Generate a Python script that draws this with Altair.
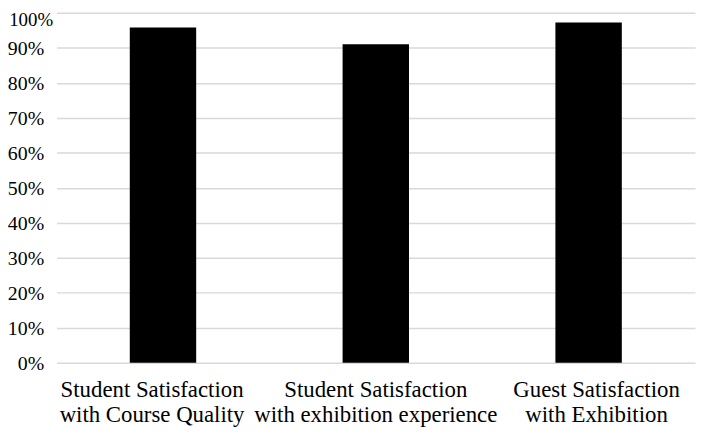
import altair as alt
import pandas as pd

categories = [
    "Student Satisfaction|with Course Quality",
    "Student Satisfaction|with exhibition experience",
    "Guest Satisfaction|with Exhibition",
]
values = [0.958, 0.91, 0.972]
y_ticks = [0, 0.1, 0.2, 0.3, 0.4, 0.5, 0.6, 0.7, 0.8, 0.9, 1.0]

df = pd.DataFrame({"category": categories, "value": values})

FONT = "Liberation Serif"

chart = alt.Chart(df).mark_bar(color="#000000").encode(
    x=alt.X(
        "category:N",
        sort=categories,
        scale=alt.Scale(paddingInner=0.688, paddingOuter=0.344),
        axis=alt.Axis(
            title=None,
            labelAngle=0,
            labelExpr="split(datum.label, '|')",
            labelFont=FONT,
            labelFontSize=23,
            labelLineHeight=25,
            labelColor="#000000",
            labelPadding=16,
            labelLimit=400,
            labelOffset={
                "condition": [
                    {"test": "indexof(datum.value, 'Course') >= 0", "value": -11},
                    {"test": "indexof(datum.value, 'Guest') >= 0", "value": 8},
                ],
                "value": 0,
            },
            ticks=False,
            domain=False,
            grid=False,
        ),
    ),
    y=alt.Y(
        "value:Q",
        scale=alt.Scale(domain=[0, 1], nice=False),
        axis=alt.Axis(
            title=None,
            values=y_ticks,
            format=".0%",
            labelFont=FONT,
            labelFontSize={
                "condition": {"test": "datum.value >= 1", "value": 19},
                "value": 20,
            },
            labelColor="#000000",
            labelPadding={
                "condition": {"test": "datum.value >= 1", "value": 4},
                "value": 13,
            },
            labelOffset={
                "condition": {"test": "datum.value >= 1", "value": 7},
                "value": 1,
            },
            ticks=False,
            domain=False,
            grid=True,
            gridColor="#d9d9d9",
            gridWidth=1.5,
        ),
    ),
).properties(
    width=644,
    height=353,
    autosize=alt.AutoSizeParams(type="none"),
    padding={"left": 49, "top": 3, "right": 2, "bottom": 70},
).configure(background="#ffffff").configure_view(stroke=None)

chart.save("out.html", embed_options={"renderer": "svg", "actions": False})
